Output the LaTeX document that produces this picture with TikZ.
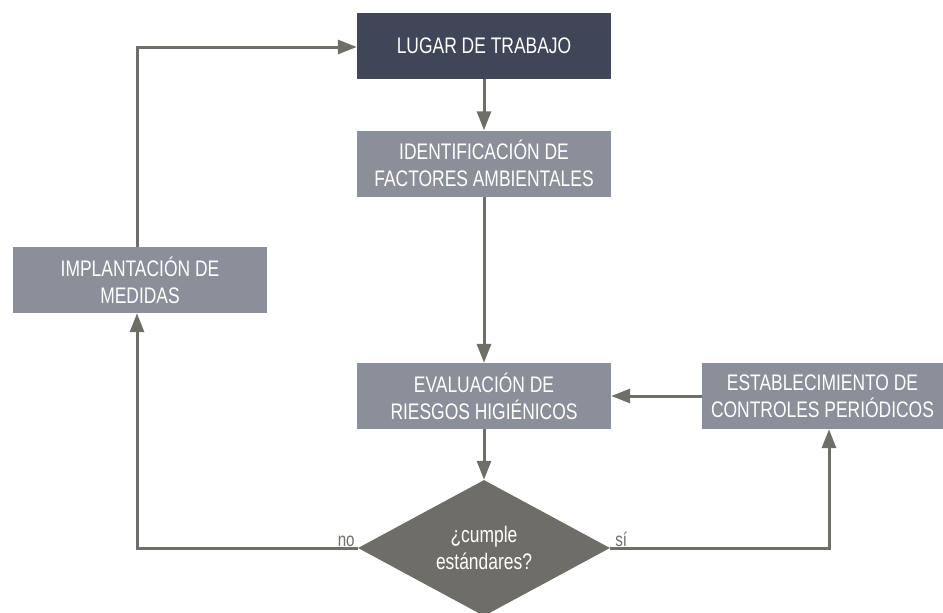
\documentclass[tikz,border=0pt]{standalone}
\usepackage{fontspec}
\setmainfont[FakeStretch=0.775]{Liberation Sans}
\usetikzlibrary{shapes.geometric,arrows.meta}
\definecolor{darkbox}{HTML}{404657}
\definecolor{graybox}{HTML}{8B8F99}
\definecolor{diam}{HTML}{6E6D68}
\definecolor{linec}{HTML}{6F6F69}
\tikzset{
  box/.style={rectangle, fill=graybox, text=white, minimum width=254pt, minimum height=66pt, inner sep=0pt, align=center, font=\fontsize{22.5}{27}\selectfont},
  topbox/.style={box, fill=darkbox},
  decision/.style={diamond, fill=diam, text=white, minimum width=252pt, minimum height=136pt, inner sep=0pt, align=center, aspect=1.85, font=\fontsize{22.5}{27}\selectfont},
  conn/.style={draw=linec, line width=3pt, -{Triangle[length=19pt,width=14pt]}},
  lbl/.style={text=linec, font=\fontsize{19.5}{22}\selectfont, inner sep=2pt}
}
\begin{document}
\begin{tikzpicture}[x=1pt,y=-1pt]
\useasboundingbox (0,0) rectangle (943,613);
\node[topbox] (lugar) at (484,46) {LUGAR DE TRABAJO};
\node[box] (ident) at (484,163.5) {IDENTIFICACIÓN DE\\FACTORES AMBIENTALES};
\node[box] (eval) at (484,396) {EVALUACIÓN DE\\RIESGOS HIGIÉNICOS};
\node[box, minimum width=241pt] (estab) at (822.5,396) {ESTABLECIMIENTO DE\\CONTROLES PERIÓDICOS};
\node[box] (impl) at (140,280) {IMPLANTACIÓN DE\\MEDIDAS};
\node[decision] (dec) at (484,548) {¿cumple\\estándares?};
\coordinate (nocorner) at (137,548);
\coordinate (topcorner) at (137,47);
\coordinate (sicorner) at (829,548);
\draw[conn] (lugar) -- (ident);
\draw[conn] (ident) -- (eval);
\draw[conn] (eval) -- (dec);
\draw[conn] (estab) -- (eval);
\draw[conn] (dec.west) -- (nocorner) -- (impl.south -| nocorner);
\draw[conn] (impl.north -| topcorner) -- (topcorner) -- (lugar.west |- topcorner);
\draw[conn] (dec.east) -- (sicorner) -- (estab.south -| sicorner);
\node[lbl, anchor=south east] (nolbl) at ([xshift=-1pt,yshift=-1pt]dec.west) {no};
\node[lbl, anchor=south west] (silbl) at ([xshift=3pt,yshift=-1pt]dec.east) {sí};
\end{tikzpicture}
\end{document}
